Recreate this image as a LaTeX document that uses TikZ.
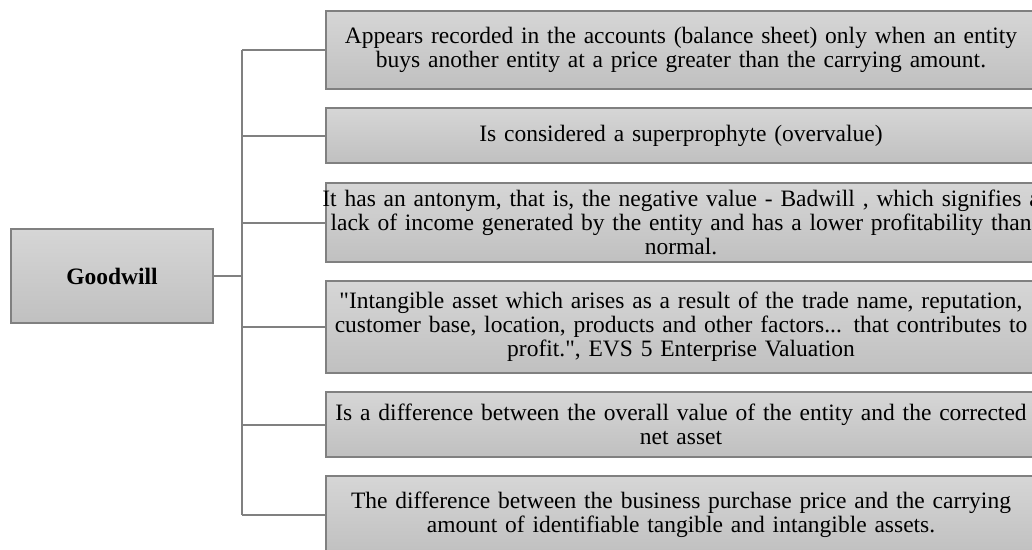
\documentclass[tikz,border=0pt]{standalone}
\usepackage{fontspec}
\setmainfont{Liberation Serif}
\newcommand{\oneline}[1]{\makebox[\linewidth][c]{#1}}
\begin{document}
\begin{tikzpicture}[x=1pt,y=-1pt,
  box/.style={draw=boxedge, line width=1.4pt, top color=boxtop, bottom color=boxbot,
    inner sep=0pt, align=center, font=\fontsize{23.5}{24}\selectfont},
  leaf/.style={box, minimum width=710pt, text width=700pt},
  link/.style={draw=linkcol, line width=2pt}]
\definecolor{boxedge}{RGB}{128,128,128}
\definecolor{boxtop}{RGB}{214,214,214}
\definecolor{boxbot}{RGB}{192,192,192}
\definecolor{linkcol}{RGB}{128,128,128}
\useasboundingbox (0,0) rectangle (1032,549);
\node[box, minimum width=202pt, minimum height=94pt, font=\fontsize{23.5}{24}\selectfont\bfseries] (g) at (112,276) {Goodwill};
\node[leaf, minimum height=78pt] (b1) at (681,50) {\oneline{Appears recorded in the accounts (balance sheet) only when an entity}\\\oneline{buys another entity at a price greater than the carrying amount.}};
\node[leaf, minimum height=55pt] (b2) at (681,135.5) {Is considered a superprophyte (overvalue)};
\node[leaf, minimum height=79pt] (b3) at (681,222.5) {\oneline{It has an antonym, that is, the negative value - Badwill , which signifies a}\\\oneline{lack of income generated by the entity and has a lower profitability than}\\\oneline{normal.}};
\node[leaf, minimum height=92pt] (b4) at (681,327) {\oneline{\textquotedbl Intangible asset which arises as a result of the trade name, reputation,}\\\oneline{customer base, location, products and other factors... that contributes to}\\\oneline{profit.\textquotedbl, EVS 5 Enterprise Valuation}};
\node[leaf, minimum height=65pt] (b5) at (681,424.5) {\oneline{Is a difference between the overall value of the entity and the corrected}\\\oneline{net asset}};
\node[leaf, minimum height=78pt] (b6) at (681,515) {\oneline{The difference between the business purchase price and the carrying}\\\oneline{amount of identifiable tangible and intangible assets.}};
\coordinate (spine) at (242,50);
\draw[link] (b1.west -| spine) -- (b6.west -| spine);
\draw[link] (g.east) -- (g.east -| spine);
\foreach \b in {b1,b2,b3,b4,b5,b6}{
  \draw[link] (\b.west -| spine) -- (\b.west);
}
\end{tikzpicture}
\end{document}
